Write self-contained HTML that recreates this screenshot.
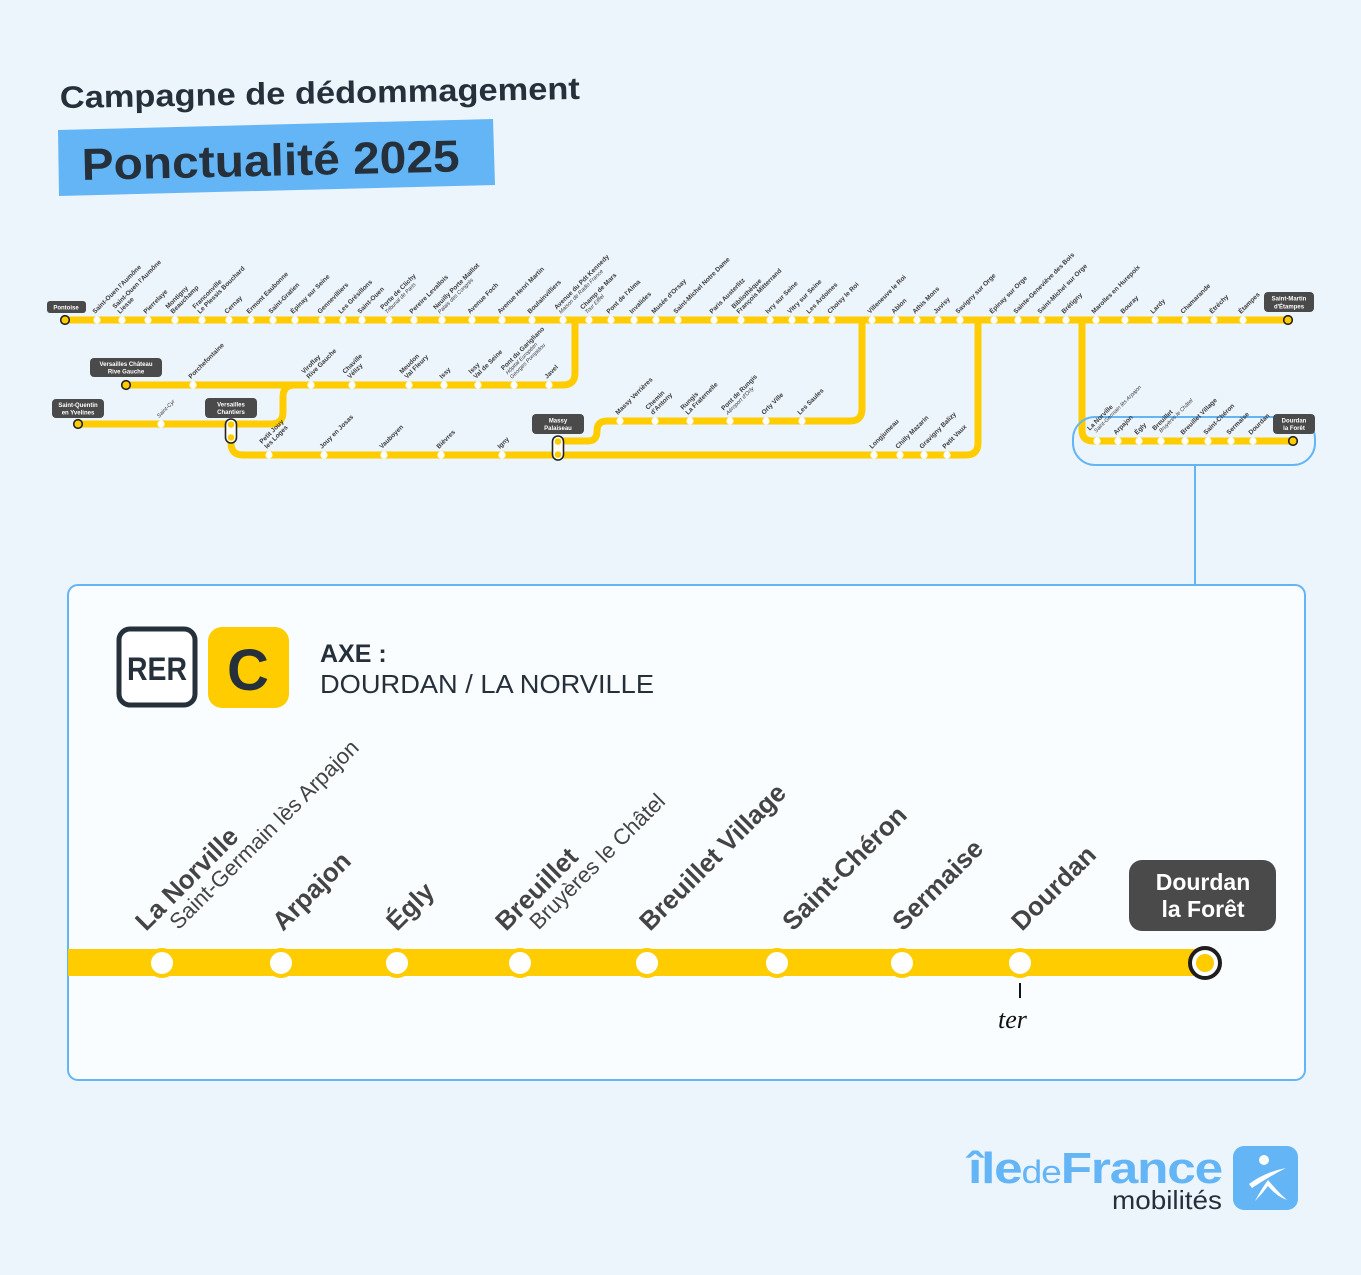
<!DOCTYPE html>
<html><head><meta charset="utf-8"><style>
html,body{margin:0;padding:0;background:#edf5fc;}
svg{display:block}
.l{font-family:"Liberation Sans",sans-serif;font-size:6.5px;font-weight:bold;fill:#3a3a3a}
.s{font-style:italic;font-weight:normal;font-size:5.5px}
.t{font-family:"Liberation Sans",sans-serif;font-size:6px;font-weight:bold;fill:#fff}
.b{font-family:"Liberation Sans",sans-serif;font-size:26px;font-weight:bold;fill:#444}
.bs{font-weight:normal;font-size:22px}
</style></head><body>
<svg width="1361" height="1275" viewBox="0 0 1361 1275" xmlns="http://www.w3.org/2000/svg">
<rect width="1361" height="1275" fill="#edf5fc"/>
<text x="60" y="108" transform="rotate(-1 60 108)" font-family="Liberation Sans,sans-serif" font-weight="bold" font-size="31" fill="#25303b" textLength="520" lengthAdjust="spacingAndGlyphs">Campagne de dédommagement</text>
<polygon points="58,130 493,119 495,185 59,196" fill="#64b5f6"/>
<text x="82" y="180" transform="rotate(-1.3 82 180)" font-family="Liberation Sans,sans-serif" font-weight="bold" font-size="45" fill="#25303b" textLength="378" lengthAdjust="spacingAndGlyphs">Ponctualité 2025</text>

<g fill="none" stroke="#ffcc00" stroke-width="7" stroke-linecap="round">
<path d="M65 320 H1288"/>
<path d="M575 320 V373 Q575 385 563 385 H126"/>
<path d="M78 424 H271 Q283 424 283 412 V397 Q283 385 295 385"/>
<path d="M231 431 V443 Q231 455 243 455 H966 Q978 455 978 443 V320"/>
<path d="M558 441 H588 Q597 441 597 431 Q597 421 607 421 H850 Q862 421 862 409 V320"/>
<path d="M1082 320 V430 Q1082 441 1093 441 H1293"/>
</g>
<rect x="1073" y="417" width="242" height="48" rx="22" fill="none" stroke="#64b5f6" stroke-width="2"/>
<line x1="1195" y1="465" x2="1195" y2="585" stroke="#64b5f6" stroke-width="2"/>

<g fill="#fff">
<circle cx="97" cy="320" r="3.6"/><circle cx="122" cy="320" r="3.6"/><circle cx="148" cy="320" r="3.6"/><circle cx="175" cy="320" r="3.6"/><circle cx="202" cy="320" r="3.6"/><circle cx="229" cy="320" r="3.6"/><circle cx="251" cy="320" r="3.6"/><circle cx="273" cy="320" r="3.6"/><circle cx="295" cy="320" r="3.6"/><circle cx="322" cy="320" r="3.6"/><circle cx="343" cy="320" r="3.6"/><circle cx="362" cy="320" r="3.6"/><circle cx="389" cy="320" r="3.6"/><circle cx="414" cy="320" r="3.6"/><circle cx="442" cy="320" r="3.6"/><circle cx="472" cy="320" r="3.6"/><circle cx="502" cy="320" r="3.6"/><circle cx="532" cy="320" r="3.6"/><circle cx="563" cy="320" r="3.6"/><circle cx="589" cy="320" r="3.6"/><circle cx="611" cy="320" r="3.6"/><circle cx="634" cy="320" r="3.6"/><circle cx="656" cy="320" r="3.6"/><circle cx="678" cy="320" r="3.6"/><circle cx="714" cy="320" r="3.6"/><circle cx="741" cy="320" r="3.6"/><circle cx="770" cy="320" r="3.6"/><circle cx="792" cy="320" r="3.6"/><circle cx="811" cy="320" r="3.6"/><circle cx="832" cy="320" r="3.6"/><circle cx="872" cy="320" r="3.6"/><circle cx="896" cy="320" r="3.6"/><circle cx="917" cy="320" r="3.6"/><circle cx="938" cy="320" r="3.6"/><circle cx="960" cy="320" r="3.6"/><circle cx="994" cy="320" r="3.6"/><circle cx="1018" cy="320" r="3.6"/><circle cx="1042" cy="320" r="3.6"/><circle cx="1066" cy="320" r="3.6"/><circle cx="1096" cy="320" r="3.6"/><circle cx="1125" cy="320" r="3.6"/><circle cx="1155" cy="320" r="3.6"/><circle cx="1185" cy="320" r="3.6"/><circle cx="1214" cy="320" r="3.6"/><circle cx="1243" cy="320" r="3.6"/>
<circle cx="193" cy="385" r="3.6"/><circle cx="311" cy="385" r="3.6"/><circle cx="352" cy="385" r="3.6"/><circle cx="409" cy="385" r="3.6"/><circle cx="444" cy="385" r="3.6"/><circle cx="478" cy="385" r="3.6"/><circle cx="514" cy="385" r="3.6"/><circle cx="549" cy="385" r="3.6"/>
<circle cx="161" cy="424" r="3.6"/>
<circle cx="269" cy="455" r="3.6"/><circle cx="324" cy="455" r="3.6"/><circle cx="384" cy="455" r="3.6"/><circle cx="441" cy="455" r="3.6"/><circle cx="502" cy="455" r="3.6"/><circle cx="874" cy="455" r="3.6"/><circle cx="900" cy="455" r="3.6"/><circle cx="924" cy="455" r="3.6"/><circle cx="947" cy="455" r="3.6"/>
<circle cx="620" cy="421" r="3.6"/><circle cx="655" cy="421" r="3.6"/><circle cx="690" cy="421" r="3.6"/><circle cx="730" cy="421" r="3.6"/><circle cx="766" cy="421" r="3.6"/><circle cx="802" cy="421" r="3.6"/>
<circle cx="1097" cy="441" r="3.6"/><circle cx="1118" cy="441" r="3.6"/><circle cx="1139" cy="441" r="3.6"/><circle cx="1161" cy="441" r="3.6"/><circle cx="1185" cy="441" r="3.6"/><circle cx="1208" cy="441" r="3.6"/><circle cx="1231" cy="441" r="3.6"/><circle cx="1253" cy="441" r="3.6"/>
</g>
<g fill="#ffcc00" stroke="#222" stroke-width="1.6">
<circle cx="65" cy="320" r="4.3"/><circle cx="1288" cy="320" r="4.3"/><circle cx="126" cy="385" r="4.3"/><circle cx="78" cy="424" r="4.3"/><circle cx="1293" cy="441" r="4.3"/>
</g>
<rect x="225.5" y="419" width="11" height="24" rx="5.5" fill="#fff" stroke="#222" stroke-width="1.6"/>
<circle cx="231" cy="424.5" r="3.3" fill="#ffcc00"/><circle cx="231" cy="437.5" r="3.3" fill="#ffcc00"/>
<rect x="552.5" y="436" width="11" height="24" rx="5.5" fill="#fff" stroke="#222" stroke-width="1.6"/>
<circle cx="558" cy="441.5" r="3.3" fill="#ffcc00"/><circle cx="558" cy="454.5" r="3.3" fill="#ffcc00"/>

<g fill="#4a4a4a">
<rect x="47" y="301" width="39" height="12" rx="3"/>
<rect x="1264" y="292" width="50" height="20" rx="4"/>
<rect x="90" y="358" width="72" height="19" rx="4"/>
<rect x="52" y="399" width="52" height="19" rx="4"/>
<rect x="205" y="398" width="52" height="20" rx="4"/>
<rect x="532" y="414" width="52" height="20" rx="4"/>
<rect x="1273" y="414" width="42" height="20" rx="4"/>
</g>
<g class="t" text-anchor="middle">
<text x="66" y="309.5">Pontoise</text>
<text x="1289" y="300.5">Saint-Martin</text><text x="1289" y="308.5">d'Étampes</text>
<text x="126" y="366">Versailles Château</text><text x="126" y="373.5">Rive Gauche</text>
<text x="78" y="407">Saint-Quentin</text><text x="78" y="414.5">en Yvelines</text>
<text x="231" y="406.5">Versailles</text><text x="231" y="414">Chantiers</text>
<text x="558" y="422.5">Massy</text><text x="558" y="430">Palaiseau</text>
<text x="1294" y="422.5">Dourdan</text><text x="1294" y="430">la Forêt</text>
</g>

<g class="l">
<text transform="translate(95,314) rotate(-45)">Saint-Ouen l'Aumône</text>
<text transform="translate(120,314) rotate(-45)"><tspan x="0" y="-7">Saint-Ouen l'Aumône</tspan><tspan x="0" y="0">Liesse</tspan></text>
<text transform="translate(146,314) rotate(-45)">Pierrelaye</text>
<text transform="translate(173,314) rotate(-45)"><tspan x="0" y="-7">Montigny</tspan><tspan x="0" y="0">Beauchamp</tspan></text>
<text transform="translate(200,314) rotate(-45)"><tspan x="0" y="-7">Franconville</tspan><tspan x="0" y="0">Le Plessis Bouchard</tspan></text>
<text transform="translate(227,314) rotate(-45)">Cernay</text>
<text transform="translate(249,314) rotate(-45)">Ermont Eaubonne</text>
<text transform="translate(271,314) rotate(-45)">Saint-Gratien</text>
<text transform="translate(293,314) rotate(-45)">Épinay sur Seine</text>
<text transform="translate(320,314) rotate(-45)">Gennevilliers</text>
<text transform="translate(341,314) rotate(-45)">Les Grésillons</text>
<text transform="translate(360,314) rotate(-45)">Saint-Ouen</text>
<text transform="translate(387,314) rotate(-45)"><tspan x="0" y="-6">Porte de Clichy</tspan><tspan x="0" y="0" class="s">Tribunal de Paris</tspan></text>
<text transform="translate(412,314) rotate(-45)">Pereire Levallois</text>
<text transform="translate(440,314) rotate(-45)"><tspan x="0" y="-6">Neuilly Porte Maillot</tspan><tspan x="0" y="0" class="s">Palais des Congrès</tspan></text>
<text transform="translate(470,314) rotate(-45)">Avenue Foch</text>
<text transform="translate(500,314) rotate(-45)">Avenue Henri Martin</text>
<text transform="translate(530,314) rotate(-45)">Boulainvilliers</text>
<text transform="translate(561,314) rotate(-45)"><tspan x="0" y="-6">Avenue du Pdt Kennedy</tspan><tspan x="0" y="0" class="s">Maison de Radio France</tspan></text>
<text transform="translate(587,314) rotate(-45)"><tspan x="0" y="-6">Champ de Mars</tspan><tspan x="0" y="0" class="s">Tour Eiffel</tspan></text>
<text transform="translate(609,314) rotate(-45)">Pont de l'Alma</text>
<text transform="translate(632,314) rotate(-45)">Invalides</text>
<text transform="translate(654,314) rotate(-45)">Musée d'Orsay</text>
<text transform="translate(676,314) rotate(-45)">Saint-Michel Notre Dame</text>
<text transform="translate(712,314) rotate(-45)">Paris Austerlitz</text>
<text transform="translate(739,314) rotate(-45)"><tspan x="0" y="-7">Bibliothèque</tspan><tspan x="0" y="0">François Mitterrand</tspan></text>
<text transform="translate(768,314) rotate(-45)">Ivry sur Seine</text>
<text transform="translate(790,314) rotate(-45)">Vitry sur Seine</text>
<text transform="translate(809,314) rotate(-45)">Les Ardoines</text>
<text transform="translate(830,314) rotate(-45)">Choisy le Roi</text>
<text transform="translate(870,314) rotate(-45)">Villeneuve le Roi</text>
<text transform="translate(894,314) rotate(-45)">Ablon</text>
<text transform="translate(915,314) rotate(-45)">Athis Mons</text>
<text transform="translate(936,314) rotate(-45)">Juvisy</text>
<text transform="translate(958,314) rotate(-45)">Savigny sur Orge</text>
<text transform="translate(992,314) rotate(-45)">Épinay sur Orge</text>
<text transform="translate(1016,314) rotate(-45)">Sainte-Geneviève des Bois</text>
<text transform="translate(1040,314) rotate(-45)">Saint-Michel sur Orge</text>
<text transform="translate(1064,314) rotate(-45)">Brétigny</text>
<text transform="translate(1094,314) rotate(-45)">Marolles en Hurepoix</text>
<text transform="translate(1123,314) rotate(-45)">Bouray</text>
<text transform="translate(1153,314) rotate(-45)">Lardy</text>
<text transform="translate(1183,314) rotate(-45)">Chamarande</text>
<text transform="translate(1212,314) rotate(-45)">Étréchy</text>
<text transform="translate(1241,314) rotate(-45)">Étampes</text>
<text transform="translate(191,379) rotate(-45)">Porchefontaine</text>
<text transform="translate(309,379) rotate(-45)"><tspan x="0" y="-7">Viroflay</tspan><tspan x="0" y="0">Rive Gauche</tspan></text>
<text transform="translate(350,379) rotate(-45)"><tspan x="0" y="-7">Chaville</tspan><tspan x="0" y="0">Vélizy</tspan></text>
<text transform="translate(407,379) rotate(-45)"><tspan x="0" y="-7">Meudon</tspan><tspan x="0" y="0">Val Fleury</tspan></text>
<text transform="translate(442,379) rotate(-45)">Issy</text>
<text transform="translate(476,379) rotate(-45)"><tspan x="0" y="-7">Issy</tspan><tspan x="0" y="0">Val de Seine</tspan></text>
<text transform="translate(512,379) rotate(-45)"><tspan x="0" y="-12">Pont du Garigliano</tspan><tspan x="0" y="-6" class="s">Hôpital Européen</tspan><tspan x="0" y="0" class="s">Georges Pompidou</tspan></text>
<text transform="translate(547,379) rotate(-45)">Javel</text>
<text transform="translate(159,418) rotate(-45)" class="s">Saint-Cyr</text>
<text transform="translate(267,449) rotate(-45)"><tspan x="0" y="-7">Petit Jouy</tspan><tspan x="0" y="0">les Loges</tspan></text>
<text transform="translate(322,449) rotate(-45)">Jouy en Josas</text>
<text transform="translate(382,449) rotate(-45)">Vauboyen</text>
<text transform="translate(439,449) rotate(-45)">Bièvres</text>
<text transform="translate(500,449) rotate(-45)">Igny</text>
<text transform="translate(872,449) rotate(-45)">Longjumeau</text>
<text transform="translate(898,449) rotate(-45)">Chilly Mazarin</text>
<text transform="translate(922,449) rotate(-45)">Gravigny Balizy</text>
<text transform="translate(945,449) rotate(-45)">Petit Vaux</text>
<text transform="translate(618,415) rotate(-45)">Massy Verrières</text>
<text transform="translate(653,415) rotate(-45)"><tspan x="0" y="-7">Chemin</tspan><tspan x="0" y="0">d'Antony</tspan></text>
<text transform="translate(688,415) rotate(-45)"><tspan x="0" y="-7">Rungis</tspan><tspan x="0" y="0">La Fraternelle</tspan></text>
<text transform="translate(728,415) rotate(-45)"><tspan x="0" y="-6">Pont de Rungis</tspan><tspan x="0" y="0" class="s">Aéroport d'Orly</tspan></text>
<text transform="translate(764,415) rotate(-45)">Orly Ville</text>
<text transform="translate(800,415) rotate(-45)">Les Saules</text>
<text transform="translate(1094,435) rotate(-45)"><tspan x="0" y="-6">La Norville</tspan><tspan x="3" y="0" class="s">Saint-Germain lès Arpajon</tspan></text>
<text transform="translate(1116,435) rotate(-45)">Arpajon</text>
<text transform="translate(1137,435) rotate(-45)">Égly</text>
<text transform="translate(1159,435) rotate(-45)"><tspan x="0" y="-6">Breuillet</tspan><tspan x="3" y="0" class="s">Bruyères le Châtel</tspan></text>
<text transform="translate(1183,435) rotate(-45)">Breuillet Village</text>
<text transform="translate(1206,435) rotate(-45)">Saint-Chéron</text>
<text transform="translate(1229,435) rotate(-45)">Sermaise</text>
<text transform="translate(1251,435) rotate(-45)">Dourdan</text>
</g>

<rect x="68" y="585" width="1237" height="495" rx="10" fill="#fafdff" stroke="#64b5f6" stroke-width="2"/>
<rect x="119" y="629" width="76" height="76" rx="11" fill="#fff" stroke="#25303b" stroke-width="5"/>
<text x="157" y="680" text-anchor="middle" font-family="Liberation Sans,sans-serif" font-weight="bold" font-size="32" fill="#25303b" textLength="60" lengthAdjust="spacingAndGlyphs">RER</text>
<rect x="208" y="627" width="81" height="81" rx="14" fill="#ffcc00"/>
<text x="248" y="690" text-anchor="middle" font-family="Liberation Sans,sans-serif" font-weight="bold" font-size="58" fill="#25303b">C</text>
<text x="320" y="662" font-family="Liberation Sans,sans-serif" font-weight="bold" font-size="25" fill="#25303b">AXE :</text>
<text x="320" y="693" font-family="Liberation Sans,sans-serif" font-size="26" fill="#25303b" textLength="334" lengthAdjust="spacingAndGlyphs">DOURDAN / LA NORVILLE</text>

<rect x="68" y="949" width="1137" height="27" fill="#ffcc00"/>
<g fill="#fff" stroke="#ffcc00" stroke-width="4">
<circle cx="162" cy="963" r="13"/><circle cx="281" cy="963" r="13"/><circle cx="397" cy="963" r="13"/><circle cx="520" cy="963" r="13"/><circle cx="647" cy="963" r="13"/><circle cx="777" cy="963" r="13"/><circle cx="902" cy="963" r="13"/><circle cx="1020" cy="963" r="13"/>
</g>
<circle cx="1205" cy="963" r="15" fill="#fff" stroke="#1e1e1e" stroke-width="4"/>
<circle cx="1205" cy="963" r="9" fill="#ffcc00"/>
<rect x="1129" y="860" width="147" height="71" rx="13" fill="#4a4a4a"/>
<text x="1203" y="890" text-anchor="middle" font-family="Liberation Sans,sans-serif" font-weight="bold" font-size="23" fill="#fff">Dourdan</text>
<text x="1203" y="917" text-anchor="middle" font-family="Liberation Sans,sans-serif" font-weight="bold" font-size="23" fill="#fff">la Forêt</text>
<line x1="1020" y1="983" x2="1020" y2="998" stroke="#111" stroke-width="2"/>
<text x="998" y="1028" font-family="Liberation Serif,serif" font-style="italic" font-size="26" fill="#111">ter</text>

<g class="b">
<text transform="translate(146,932) rotate(-45)"><tspan x="0" y="0">La Norville</tspan><tspan x="24" y="22" class="bs">Saint-Germain lès Arpajon</tspan></text>
<text transform="translate(283,932) rotate(-45)">Arpajon</text>
<text transform="translate(397,932) rotate(-45)">Égly</text>
<text transform="translate(506,932) rotate(-45)"><tspan x="0" y="0">Breuillet</tspan><tspan x="24" y="22" class="bs">Bruyères le Châtel</tspan></text>
<text transform="translate(650,932) rotate(-45)">Breuillet Village</text>
<text transform="translate(793,932) rotate(-45)">Saint-Chéron</text>
<text transform="translate(903,932) rotate(-45)">Sermaise</text>
<text transform="translate(1022,932) rotate(-45)">Dourdan</text>
</g>

<text x="968" y="1183" font-family="Liberation Sans,sans-serif" font-size="44" fill="#64b5f6" letter-spacing="-1" textLength="254" lengthAdjust="spacingAndGlyphs"><tspan font-weight="bold">île</tspan><tspan font-size="32">de</tspan><tspan font-weight="bold">France</tspan></text>
<text x="1112" y="1209" font-family="Liberation Sans,sans-serif" font-size="26" fill="#25303b" textLength="110" lengthAdjust="spacingAndGlyphs">mobilités</text>
<rect x="1233" y="1146" width="65" height="64" rx="11" fill="#64b5f6"/>
<circle cx="1264" cy="1160" r="5" fill="#fff"/>
<path d="M1249 1184 Q1265 1172 1286 1168 Q1270 1176 1252 1188 Z" fill="#fff"/>
<path d="M1255 1201 Q1262 1188 1268 1180 Q1278 1192 1287 1200 Q1276 1196 1268 1186 Q1262 1194 1255 1201 Z" fill="#fff"/>
</svg>
</body></html>
